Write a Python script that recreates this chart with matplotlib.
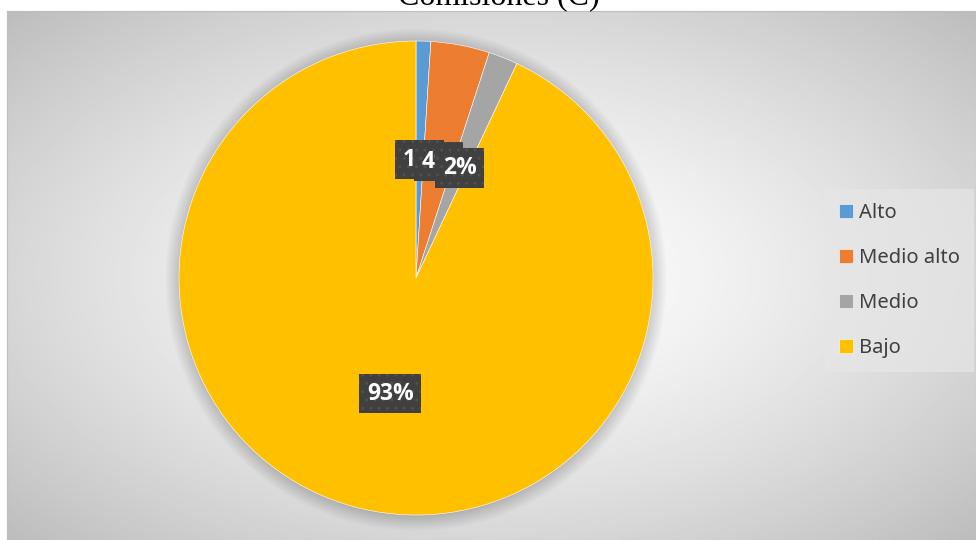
import numpy as np
import matplotlib.pyplot as plt
from matplotlib.patches import Circle

# chart data
categories = ['Alto', 'Medio alto', 'Medio', 'Bajo']
percentages = [1, 4, 2, 93]
colors = ['#5B9BD5', '#ED7D31', '#A5A5A5', '#FFC000']
title = 'Comisiones (C)'

W, H = 976, 540
fig = plt.figure(figsize=(W / 100, H / 100), dpi=100)
fig.patch.set_facecolor('white')

# chart area: radial grey gradient
bg = fig.add_axes([7 / W, 0, 1 - 7 / W, 529 / H])
yy, xx = np.mgrid[-1:1:300j, -1:1:500j]
d = np.sqrt(xx ** 2 + yy ** 2) / np.sqrt(2)
shade = 1 - 0.26 * d ** 1.4
bg.imshow(shade, cmap='gray', vmin=0, vmax=1, extent=[0, 1, 0, 1],
          aspect='auto', interpolation='bilinear')
bg.set_xticks([])
bg.set_yticks([])
for s in bg.spines.values():
    s.set_color('#BDBDBD')
    s.set_linewidth(0.8)

# title (cut off at the top, as in the source)
fig.text(499 / W, 1 - 4 / H, title, ha='center', va='baseline',
         fontsize=23, family='Liberation Serif', color='black')

# pie
ax = fig.add_axes([(416 - 270) / W, (262 - 270) / H, 540 / W, 540 / H])
R = 237 / 270

# soft shadow around the pie
for i in range(14):
    ax.add_patch(Circle((0.0, -0.006), R + 0.004 * i, color='black',
                        alpha=0.012, lw=0, zorder=0))

wedges, texts, autotexts = ax.pie(
    percentages, colors=colors, startangle=90, counterclock=False,
    radius=R, pctdistance=0.5, autopct=lambda p: f'{p:.0f}%',
    wedgeprops=dict(edgecolor='white', linewidth=0.4),
    textprops=dict(family='Open Sans', fontweight='bold', fontsize=16.5,
                   color='white'))
ax.set_xlim(-1, 1)
ax.set_ylim(-1, 1)
ax.set_axis_off()

for t in autotexts:
    t.set_bbox(dict(boxstyle='square,pad=0.34', facecolor='#404040',
                    edgecolor='#505050', linewidth=0, hatch='..'))

# legend
leg = fig.legend(wedges, categories, loc='upper left',
                 bbox_to_anchor=(825 / W, 1 - 189 / H),
                 prop={'family': 'Noto Sans', 'size': 14.5},
                 handlelength=0.7, handleheight=0.7, handletextpad=0.3,
                 labelspacing=1.24, borderpad=0.7, borderaxespad=0,
                 frameon=True, fancybox=False)
leg.get_frame().set_facecolor('#E6E6E6')
leg.get_frame().set_alpha(0.7)
leg.get_frame().set_linewidth(0)
for txt in leg.get_texts():
    txt.set_color('#404040')

fig.savefig('out.png', dpi=100, facecolor='white')
